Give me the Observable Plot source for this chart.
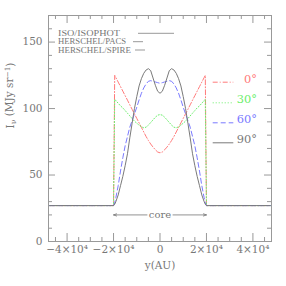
<!DOCTYPE html>
<html>
<head>
<meta charset="utf-8">
<script src="https://cdn.jsdelivr.net/npm/d3@7"></script>
<script src="https://cdn.jsdelivr.net/npm/@observablehq/plot@0.6"></script>
<style>
  html, body { margin: 0; padding: 0; background: white; }
</style>
</head>
<body>
<div id="chart"></div>
<script>
// ---- data ----
const yAU = [-47500, -20000, -19500, -19000, -18000, -17000, -16000, -15000, -14000, -13000, -12000, -11000,
  -10000, -9000, -8000, -7000, -6000, -5000, -4000, -3000, -2000, -1000, 0,
  1000, 2000, 3000, 4000, 5000, 6000, 7000, 8000, 9000, 10000, 11000, 12000, 13000, 14000,
  15000, 16000, 17000, 18000, 19000, 19500, 20000, 47500];

const I0 = [27, 27, 125, 123.3, 119.9, 116.5, 113.1, 109.7, 106.3, 102.8, 99.4, 96,
  92.6, 89.2, 85.8, 82.4, 79, 76, 73.3, 71, 69, 67.3, 66.7,
  67.3, 69, 71, 73.3, 76, 79, 82.4, 85.8, 89.2, 92.6, 96, 99.4, 102.8, 106.3,
  109.7, 113.1, 116.5, 119.9, 123.3, 125, 27, 27];

const I30 = [27, 27, 107, 106, 104, 102, 100.5, 98.5, 96.5, 94.5, 92.5, 90.5,
  89, 87.5, 86.3, 85.5, 86, 87.5, 89.5, 91.5, 93.5, 95, 95.5,
  95, 93.5, 91.5, 89.5, 87.5, 86, 85.5, 86.3, 87.5, 89, 90.5, 92.5, 94.5, 96.5,
  98.5, 100.5, 102, 104, 106, 107, 27, 27];

const I60 = [27, 27, 29, 33, 42, 53, 63, 72, 79, 86, 91, 96,
  101, 106.5, 111.5, 115.5, 118.5, 120.5, 121, 120.5, 120, 119.5, 119,
  119.5, 120, 120.5, 121, 120.5, 118.5, 115.5, 111.5, 106.5, 101, 96, 91, 86, 79,
  72, 63, 53, 42, 33, 29, 27, 27];

const I90 = [27, 27, 28, 30, 35, 42, 49, 57, 66, 78, 89, 100,
  109, 117, 122.5, 126.5, 129, 130, 128.5, 123, 117.5, 113, 111.5,
  113, 117.5, 123, 128.5, 130, 129, 126.5, 122.5, 117, 109, 100, 89, 78, 66,
  57, 49, 42, 35, 30, 28, 27, 27];

const angles = ["0°", "30°", "60°", "90°"];
const instruments = ["ISO/ISOPHOT", "HERSCHEL/PACS", "HERSCHEL/SPIRE"];

const xMajor = [-40000, -20000, 0, 20000, 40000];
const xMajorLabels = ["−4×10⁴", "−2×10⁴", "0", "2×10⁴", "4×10⁴"];
const xMinor = [-45000, -35000, -30000, -25000, -15000, -10000, -5000, 5000, 10000, 15000, 25000, 30000, 35000, 45000];
const yMajor = [0, 50, 100, 150];
const yMinor = [10, 20, 30, 40, 60, 70, 80, 90, 110, 120, 130, 140, 160];

const coreEdges = [-20000, 20000];
const coreLevel = 20;
const coreLabel = "core";
const xLabel = "y(AU)";
const yLabel = "Iν (MJy sr⁻¹)";

// ---- styles ----
const colors = ["#ff7a7a", "#6aee6a", "#7a7aff", "#7a7a7a"];
const dashes = ["5,2,1,2", "1,2", "5,3", null];
const series = [I0, I30, I60, I90];

const rows = [];
series.forEach((vals, k) => {
  yAU.forEach((x, i) => rows.push({x, v: vals[i], s: angles[k]}));
});

const W = 286, H = 286, mL = 48, mR = 15, mT = 15, mB = 45;
const fw = W - mL - mR, fh = H - mT - mB;
const axisColor = "#999";
const textColor = "#777";

const lineMarks = angles.map((a, k) =>
  Plot.line(rows.filter(r => r.s === a), {
    x: "x", y: "v", stroke: colors[k], strokeWidth: 1,
    strokeDasharray: dashes[k]
  })
);

const svg = Plot.plot({
  width: W, height: H,
  marginLeft: mL, marginRight: mR, marginTop: mT, marginBottom: mB,
  x: {domain: [-48000, 48000], axis: null},
  y: {domain: [0, 170], axis: null},
  style: {fontFamily: "DejaVu Serif", fontSize: "10.5px", color: textColor, background: "white"},
  marks: [
    // ticks (inside, all four sides)
    Plot.tickX(xMinor, {x: d => d, insetTop: fh - 4, stroke: axisColor}),
    Plot.tickX(xMinor, {x: d => d, insetBottom: fh - 4, stroke: axisColor}),
    Plot.tickX(xMajor, {x: d => d, insetTop: fh - 8, stroke: axisColor}),
    Plot.tickX(xMajor, {x: d => d, insetBottom: fh - 8, stroke: axisColor}),
    Plot.tickY(yMinor, {y: d => d, insetRight: fw - 4, stroke: axisColor}),
    Plot.tickY(yMinor, {y: d => d, insetLeft: fw - 4, stroke: axisColor}),
    Plot.tickY(yMajor, {y: d => d, insetRight: fw - 7, stroke: axisColor}),
    Plot.tickY(yMajor, {y: d => d, insetLeft: fw - 7, stroke: axisColor}),
    Plot.frame({stroke: axisColor}),
    // tick labels
    Plot.text(xMajor, {x: d => d, text: (d, i) => xMajorLabels[i], frameAnchor: "bottom", dy: 11, fill: textColor}),
    Plot.text(yMajor, {y: d => d, text: d => String(d), frameAnchor: "left", dx: -6, textAnchor: "end", fill: textColor}),
    // axis titles
    Plot.text([xLabel], {text: d => d, frameAnchor: "bottom", dy: 27, fill: textColor}),
    Plot.text([yLabel], {text: d => d, frameAnchor: "left", dx: -38, rotate: -90, fill: textColor}),
    // curves
    ...lineMarks,
    // core arrows
    Plot.arrow(coreEdges, {x1: 0, x2: d => d, y1: coreLevel, y2: coreLevel, insetStart: 13,
      stroke: textColor, strokeWidth: 0.8, headAngle: 40, headLength: 6}),
    Plot.text([coreLabel], {x: 0, y: coreLevel, text: d => d, fontSize: 10, fill: textColor})
  ]
});

// rich y label (subscript / superscript)
d3.select(svg).selectAll("text").filter(function() { return this.textContent === yLabel; })
  .each(function() {
    const t = d3.select(this);
    t.text(null);
    t.append("tspan").text("I");
    t.append("tspan").attr("dy", "0.3em").attr("font-size", "0.75em").text("ν");
    t.append("tspan").attr("dy", "-0.3em").text(" (MJy sr");
    t.append("tspan").attr("dy", "-0.4em").attr("font-size", "0.7em").text("−1");
    t.append("tspan").attr("dy", "0.4em").text(")");
  });

// legends
const g = d3.select(svg).append("g").attr("font-family", "Liberation Serif");
const instY = [33.3, 41.7, 50];
const instWidth = [62, 68, 73];
const instLine = [[138, 174], [133, 143], [135, 145]];
instruments.forEach((name, i) => {
  g.append("text").attr("x", mL + 10).attr("y", instY[i]).attr("dy", "0.35em")
    .attr("text-anchor", "start")
    .attr("textLength", instWidth[i]).attr("lengthAdjust", "spacingAndGlyphs")
    .attr("font-size", "7.8px").attr("fill", textColor).text(name);
  g.append("line").attr("x1", instLine[i][0]).attr("x2", instLine[i][1])
    .attr("y1", instY[i]).attr("y2", instY[i]).attr("stroke", axisColor).attr("stroke-width", 1);
});
const angBase = [82.7, 103.3, 123.3, 143.3];
angles.forEach((a, k) => {
  g.append("line").attr("x1", 212.7).attr("x2", 233.3).attr("y1", angBase[k] - 0.5).attr("y2", angBase[k] - 0.5)
    .attr("stroke", colors[k]).attr("stroke-width", 1).attr("stroke-dasharray", dashes[k]);
  g.append("text").attr("x", 257).attr("y", angBase[k]).attr("text-anchor", "end")
    .attr("font-family", "DejaVu Serif").attr("font-size", "11.4px").attr("fill", colors[k]).text(a);
});

document.getElementById("chart").appendChild(svg);
</script>
</body>
</html>
